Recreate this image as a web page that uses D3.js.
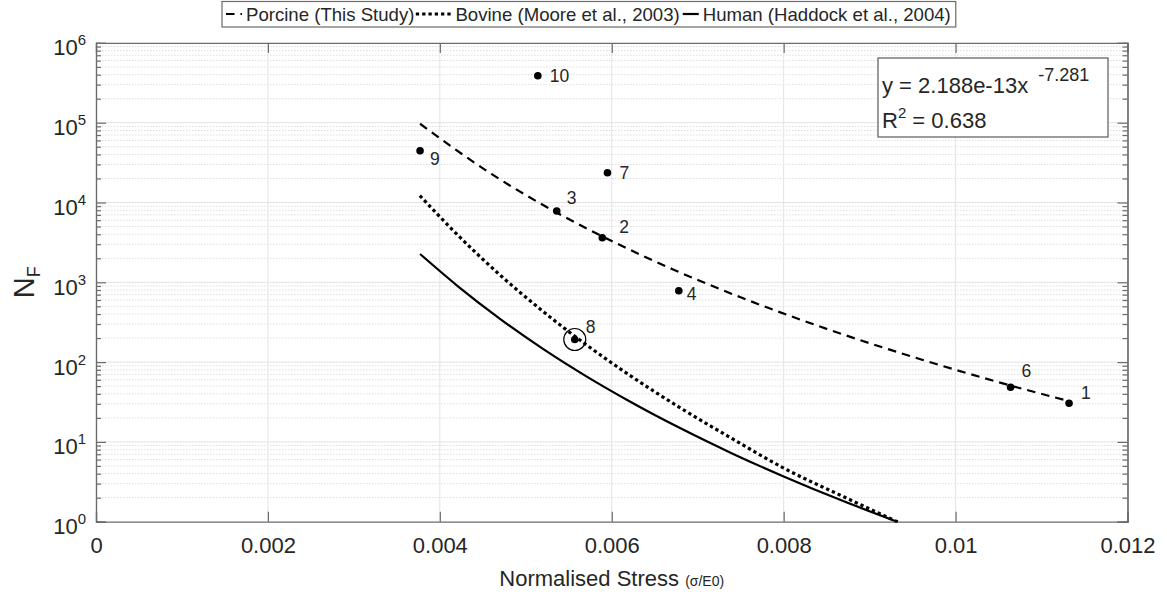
<!DOCTYPE html>
<html>
<head>
<meta charset="utf-8">
<script src="https://cdn.jsdelivr.net/npm/d3@7"></script>
<style>
  html, body { margin: 0; padding: 0; background: #fff; }
  svg { display: block; font-family: "Liberation Sans", Arial, sans-serif; }
</style>
</head>
<body>
<svg id="chart" width="1167" height="594"></svg>
<script>
// Fatigue test specimens: normalised stress (sigma/E0) vs cycles to failure
const specimenIds    = ["1", "2", "3", "4", "6", "7", "8", "9", "10"];
const specimenStress = [0.01132, 0.00589, 0.00536, 0.00678, 0.01064, 0.00595, 0.00557, 0.00377, 0.00514];
const specimenCycles = [30.5, 3620, 7820, 785, 48.3, 23600, 192, 44600, 388000];
const highlightedId  = "8";

// Porcine power-law fit
const porcineStress = [0.00377, 0.0046, 0.0053, 0.0060, 0.0067, 0.0075, 0.0085, 0.0096, 0.0105, 0.01134];
const porcineCycles = [97000, 22800, 8100, 3290, 1470, 648, 261, 108, 56, 32];

// Bovine curve (Moore et al., 2003)
const bovineStress = [0.00378, 0.0042, 0.0047, 0.0052, 0.0057, 0.0062, 0.0068, 0.0074, 0.0080, 0.0087, 0.00932];
const bovineCycles = [11800, 3990, 1236, 432, 166, 69.4, 26.6, 11.0, 4.7, 2.05, 1.0];

// Human curve (Haddock et al., 2004)
const humanStress = [0.00377, 0.0042, 0.0047, 0.0052, 0.0057, 0.0062, 0.0068, 0.0074, 0.0080, 0.0087, 0.00932];
const humanCycles = [2260, 910, 348, 146.5, 66.8, 32.6, 14.8, 7.18, 3.69, 1.80, 1.0];

// Axes
const xTickValues = [0, 0.002, 0.004, 0.006, 0.008, 0.01, 0.012];
const xTickLabels = ["0", "0.002", "0.004", "0.006", "0.008", "0.01", "0.012"];
const yTickExponents = [0, 1, 2, 3, 4, 5, 6];

// Legend and fit annotation text
const legendLabels = ["Porcine (This Study)", "Bovine (Moore et al., 2003)", "Human (Haddock et al., 2004)"];
const fitEquation = "y = 2.188e-13x";
const fitExponent = "-7.281";
const fitR2 = "0.638";

// ---------------------------------------------------------------
const svg = d3.select("#chart");
const plot = { left: 96, right: 1127.5, top: 42.9, bottom: 521.7 };
const W = plot.right - plot.left, H = plot.bottom - plot.top;
const axisColor = "#6b6b6b";
const textColor = "#262626";
const font = "Liberation Sans, Arial, sans-serif";

const x = d3.scaleLinear().domain([0, 0.012]).range([plot.left, plot.right]);
const y = d3.scaleLog().domain([1, 1e6]).range([plot.bottom, plot.top]);

const majorY = yTickExponents.map(e => Math.pow(10, e));
const minorY = [];
for (let e = 0; e < 6; e++) for (let m = 2; m <= 9; m++) minorY.push(m * Math.pow(10, e));

// Grid
const grid = svg.append("g");
grid.selectAll("line.minor").data(minorY).join("line")
  .attr("x1", plot.left).attr("x2", plot.right)
  .attr("y1", d => y(d)).attr("y2", d => y(d))
  .attr("stroke", "#dedede").attr("stroke-width", 1).attr("stroke-dasharray", "1.5,1.5");
grid.selectAll("line.majorY").data(majorY.slice(1, -1)).join("line")
  .attr("x1", plot.left).attr("x2", plot.right)
  .attr("y1", d => y(d)).attr("y2", d => y(d))
  .attr("stroke", "#e3e3e3").attr("stroke-width", 1);
grid.selectAll("line.majorX").data(xTickValues.slice(1, -1)).join("line")
  .attr("y1", plot.top).attr("y2", plot.bottom)
  .attr("x1", d => x(d)).attr("x2", d => x(d))
  .attr("stroke", "#e3e3e3").attr("stroke-width", 1);

// Axes (inward ticks, box on)
function styleAxis(g) {
  g.select(".domain").attr("stroke", axisColor).attr("stroke-width", 1.2);
  g.selectAll(".tick line").attr("stroke", axisColor).attr("stroke-width", 1.2);
}
const xAxisB = svg.append("g").attr("transform", `translate(0,${plot.bottom})`)
  .call(d3.axisBottom(x).tickValues(xTickValues).tickSize(-10).tickPadding(16)
        .tickFormat((d, i) => xTickLabels[i]));
styleAxis(xAxisB);
xAxisB.selectAll(".tick text").attr("font-size", 22).attr("fill", textColor).attr("font-family", font);
const xAxisT = svg.append("g").attr("transform", `translate(0,${plot.top})`)
  .call(d3.axisTop(x).tickValues(xTickValues).tickSize(-10).tickFormat(""));
styleAxis(xAxisT);

const yAxisL = svg.append("g").attr("transform", `translate(${plot.left},0)`)
  .call(d3.axisLeft(y).tickValues(majorY).tickSize(-10).tickPadding(10).tickFormat(""));
styleAxis(yAxisL);
yAxisL.selectAll(".tick text").each(function(d, i) {
  const t = d3.select(this).attr("dy", null).attr("fill", textColor).attr("font-family", font);
  t.text("");
  t.append("tspan").attr("font-size", 22).attr("dy", 12).text("10");
  t.append("tspan").attr("font-size", 15).attr("dy", -10).text(String(yTickExponents[i]));
});
const yMinorL = svg.append("g").attr("transform", `translate(${plot.left},0)`)
  .call(d3.axisLeft(y).tickValues(minorY).tickSize(-5).tickFormat(""));
styleAxis(yMinorL);
const yAxisR = svg.append("g").attr("transform", `translate(${plot.right},0)`)
  .call(d3.axisRight(y).tickValues(majorY).tickSize(-10).tickFormat(""));
styleAxis(yAxisR);
const yMinorR = svg.append("g").attr("transform", `translate(${plot.right},0)`)
  .call(d3.axisRight(y).tickValues(minorY).tickSize(-5).tickFormat(""));
styleAxis(yMinorR);

// Axis titles
const xTitle = svg.append("text")
  .attr("x", (plot.left + plot.right) / 2).attr("y", 586)
  .attr("text-anchor", "middle").attr("fill", textColor);
xTitle.append("tspan").attr("font-size", 22).text("Normalised Stress ");
xTitle.append("tspan").attr("font-size", 14).text("(σ/E0)");

const yTitle = svg.append("text")
  .attr("transform", `translate(34,${(plot.top + plot.bottom) / 2}) rotate(-90)`)
  .attr("text-anchor", "middle").attr("fill", textColor);
yTitle.append("tspan").attr("font-size", 29).text("N");
yTitle.append("tspan").attr("font-size", 18).attr("dy", 6).text("F");

// Curves
svg.append("clipPath").attr("id", "plotClip")
  .append("rect").attr("x", plot.left).attr("y", plot.top).attr("width", W).attr("height", H + 1);
const line = d3.line().x(d => x(d[0])).y(d => y(d[1])).curve(d3.curveMonotoneX);
const curves = svg.append("g").attr("clip-path", "url(#plotClip)");
const zip = (a, b) => a.map((v, i) => [v, b[i]]);

const styles = [
  { dash: "8.5,6", width: 2.2, cap: "butt" },
  { dash: "0.1,6.2", width: 3.2, cap: "square" },
  { dash: null, width: 2.2, cap: "butt" }
];
const series = [zip(porcineStress, porcineCycles), zip(bovineStress, bovineCycles), zip(humanStress, humanCycles)];
series.forEach((data, i) => {
  const p = curves.append("path").datum(data)
    .attr("d", line).attr("fill", "none").attr("stroke", "#000")
    .attr("stroke-width", styles[i].width).attr("stroke-linecap", styles[i].cap);
  if (styles[i].dash) p.attr("stroke-dasharray", styles[i].dash);
});

// Specimen points and their labels
const labelOffset = {
  "1": [12, -4], "2": [17, -5], "3": [10, -7], "4": [8, 9], "6": [11, -10],
  "7": [12, 6], "8": [11, -6], "9": [10, 14], "10": [12, 6]
};
const specimens = specimenIds.map((id, i) => ({ id, s: specimenStress[i], n: specimenCycles[i] }));
const pts = svg.append("g");
pts.selectAll("circle.pt").data(specimens).join("circle")
  .attr("cx", d => x(d.s)).attr("cy", d => y(d.n)).attr("r", 3.8).attr("fill", "#000");
pts.selectAll("circle.ring").data(specimens.filter(d => d.id === highlightedId)).join("circle")
  .attr("cx", d => x(d.s)).attr("cy", d => y(d.n)).attr("r", 11)
  .attr("fill", "none").attr("stroke", "#000").attr("stroke-width", 1.2);
pts.selectAll("text").data(specimens).join("text")
  .attr("x", d => x(d.s) + labelOffset[d.id][0])
  .attr("y", d => y(d.n) + labelOffset[d.id][1])
  .attr("font-size", 17.5).attr("fill", textColor).text(d => d.id);

// Fit annotation box
const ann = svg.append("g");
ann.append("rect").attr("x", 878).attr("y", 58).attr("width", 230).attr("height", 79)
  .attr("fill", "#fff").attr("stroke", "#5a5a5a").attr("stroke-width", 1.2);
const eq = ann.append("text").attr("x", 882).attr("y", 93).attr("fill", textColor).attr("font-size", 22);
eq.append("tspan").text(fitEquation);
eq.append("tspan").attr("font-size", 18).attr("dx", 10).attr("dy", -12).text(fitExponent);
const r2 = ann.append("text").attr("x", 882).attr("y", 128).attr("fill", textColor).attr("font-size", 22);
r2.append("tspan").text("R");
r2.append("tspan").attr("font-size", 15).attr("dy", -10).text("2");
r2.append("tspan").attr("dy", 10).text(" = " + fitR2);

// Legend
const leg = svg.append("g");
const legBox = leg.append("rect").attr("x", 222).attr("y", 1.5).attr("height", 25.5)
  .attr("fill", "#fff").attr("stroke", "#6b6b6b").attr("stroke-width", 1.2);
const sampleW = [16, 34, 16];
let cx = 226;
legendLabels.forEach((lab, i) => {
  const st = styles[i];
  const ln = leg.append("line").attr("x1", cx).attr("x2", cx + sampleW[i])
    .attr("y1", 14).attr("y2", 14).attr("stroke", "#000").attr("stroke-width", st.width)
    .attr("stroke-linecap", st.cap);
  if (st.dash) ln.attr("stroke-dasharray", st.dash);
  cx += sampleW[i] + 4;
  const t = leg.append("text").attr("x", cx).attr("y", 20.5).attr("font-size", 18.6)
    .attr("fill", textColor).text(lab);
  cx += t.node().getComputedTextLength() + 3;
});
legBox.attr("width", cx - 222 + 2);
</script>
</body>
</html>
